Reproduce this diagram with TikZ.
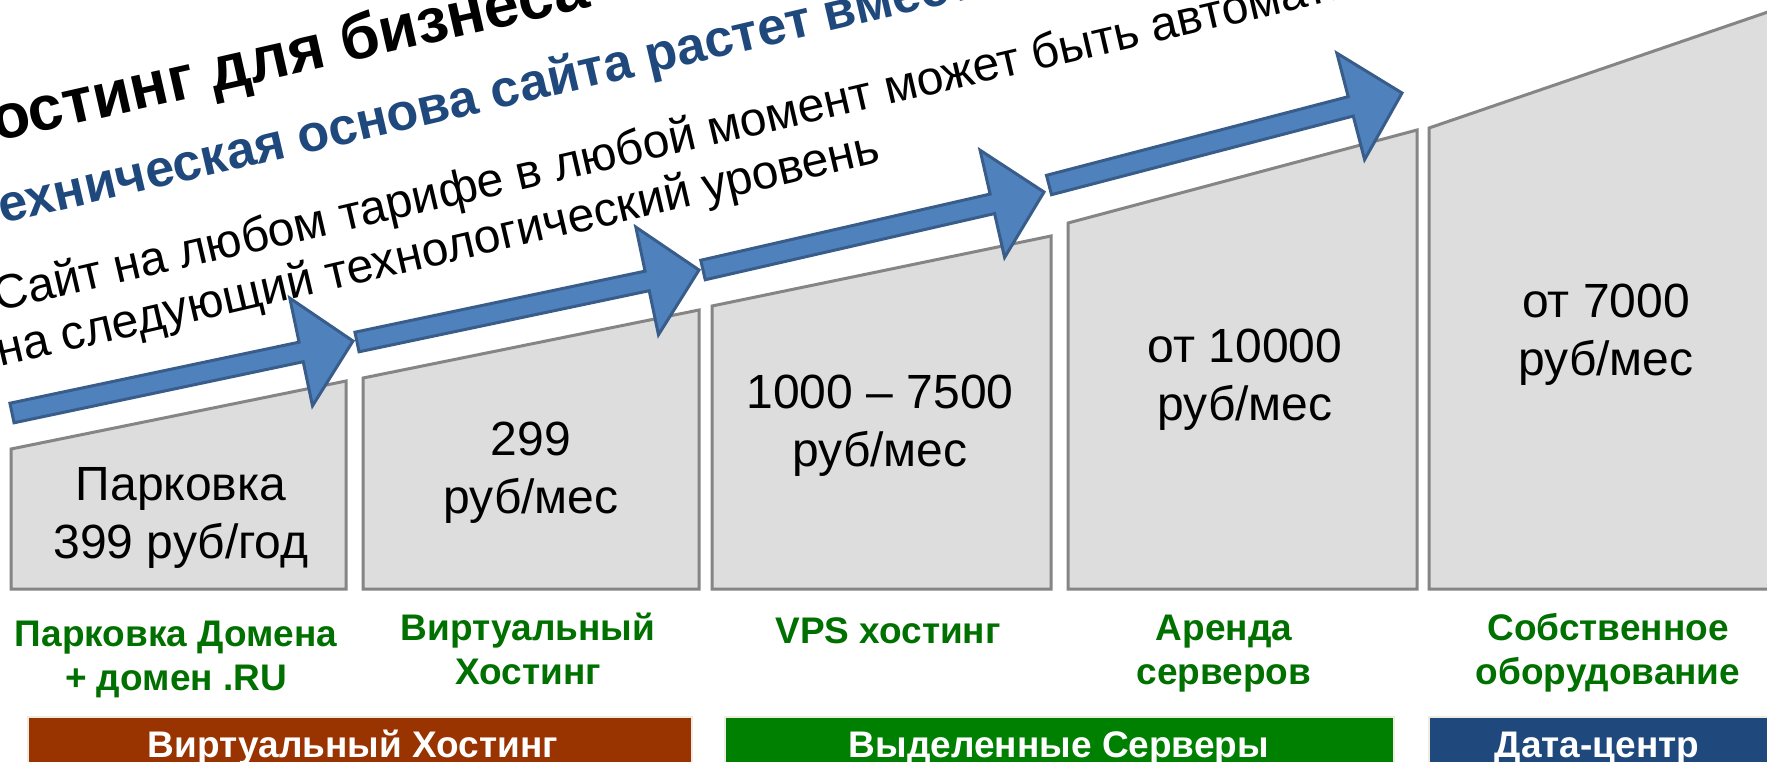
\documentclass[tikz,border=0pt]{standalone}
\usepackage{fontspec}
\setmainfont{Liberation Sans}
\usetikzlibrary{calc}
\definecolor{boxfill}{HTML}{DDDDDD}
\definecolor{boxline}{HTML}{858585}
\definecolor{arrfill}{HTML}{4F81BD}
\definecolor{arrline}{HTML}{385D8A}
\definecolor{lblgreen}{HTML}{007000}
\definecolor{titleblue}{HTML}{1F497D}
\definecolor{barbrown}{HTML}{993300}
\definecolor{bargreen}{HTML}{008000}
\definecolor{barnavy}{HTML}{1F497D}
\definecolor{baredge}{HTML}{EEECE1}
\newcommand{\twol}[2]{\begin{tabular}[t]{@{}c@{}}#1\\#2\end{tabular}}
\newcommand{\blockarr}[2]{%
  \coordinate (#1b) at ($(#2)!53pt!(#1)$);
  \draw[arrowshape] ($(#1)!10pt!90:(#2)$) -- ($(#1b)!10pt!-90:(#1)$) -- ($(#1b)!55pt!-90:(#1)$) -- (#2) -- ($(#1b)!55pt!90:(#1)$) -- ($(#1b)!10pt!90:(#1)$) -- ($(#1)!10pt!-90:(#2)$) -- cycle;}
\begin{document}
\begin{tikzpicture}[x=1pt,y=-1pt,
  tier/.style={fill=boxfill,draw=boxline,line width=3pt,line join=miter},
  arrowshape/.style={fill=arrfill,draw=arrline,line width=3pt,line join=miter},
  price/.style={anchor=base,inner sep=0pt,font=\fontsize{48}{58}\selectfont},
  lbl/.style={anchor=base,inner sep=0pt,text=lblgreen,font=\fontsize{37}{44}\selectfont\bfseries},
  bartxt/.style={anchor=base,inner sep=0pt,text=white,font=\fontsize{37}{44}\selectfont\bfseries},
  bar/.style={draw=baredge,line width=1.5pt},
  titletxt/.style={anchor=base west,inner sep=0pt,font=\fontsize{63}{70}\selectfont\bfseries},
  subtxt/.style={anchor=base west,inner sep=0pt,text=titleblue,font=\fontsize{52}{60}\selectfont\bfseries},
  bodytxt/.style={anchor=base west,inner sep=0pt,font=\fontsize{48}{56}\selectfont}]
\useasboundingbox (0,0) rectangle (1767,761);
\clip (0,0) rectangle (1767,761);
\fill[white] (0,0) rectangle (1767,761);
% heading texts
\node[titletxt,rotate=12.8] (title) at (-4,142) {\llap{Х}остинг для бизнеса};
\node[subtxt,rotate=13.1] (subtitle) at (2,224) {\llap{Т}ехническая основа сайта растет вместе};
\node[bodytxt,rotate=13.1] (body1) at (-3,312) {Сайт на любом тарифе в любой момент может быть автоматически};
\node[bodytxt,rotate=13.1] (body2) at (0,367) {на следующий технологический уровень};
% tiers
\draw[tier] (11,589) -- (11,449) -- (346,381) -- (346,589) -- cycle;
\draw[tier] (363,589) -- (363,378) -- (699,310) -- (699,589) -- cycle;
\draw[tier] (712,589) -- (712,306) -- (1051,236) -- (1051,589) -- cycle;
\draw[tier] (1068,589) -- (1068,223) -- (1417,130) -- (1417,589) -- cycle;
\draw[tier] (1429,589) -- (1429,128) -- (1800,1) -- (1800,589) -- cycle;
% arrows
\coordinate (t1) at (12,413);  \coordinate (p1) at (353,341);
\coordinate (t2) at (357,342); \coordinate (p2) at (699,270);
\coordinate (t3) at (703,270); \coordinate (p3) at (1044,192);
\coordinate (t4) at (1049,185); \coordinate (p4) at (1402,93);
\blockarr{t1}{p1}
\blockarr{t2}{p2}
\blockarr{t3}{p3}
\blockarr{t4}{p4}
% prices
\node[price] (pr1) at (181,500) {\twol{Парковка}{399 руб/год}};
\node[price] (pr2) at (531,455) {\twol{299}{руб/мес}};
\node[price] (pr3) at (880,408) {\twol{1000 – 7500}{руб/мес}};
\node[price] (pr4) at (1245,362) {\twol{от 10000}{руб/мес}};
\node[price] (pr5) at (1606,317) {\twol{от 7000}{руб/мес}};
% labels
\node[lbl] (l1) at (176,646) {\twol{Парковка Домена}{+ домен .RU}};
\node[lbl] (l2) at (528,640) {\twol{Виртуальный}{Хостинг}};
\node[lbl] (l3) at (888,643) {VPS хостинг};
\node[lbl] (l4) at (1224,640) {\twol{Аренда}{серверов}};
\node[lbl] (l5) at (1608,640) {\twol{Собственное}{оборудование}};
% category bars
\draw[bar,fill=barbrown] (28,717) rectangle (692,775);
\draw[bar,fill=bargreen] (725,717) rectangle (1394,775);
\draw[bar,fill=barnavy] (1429,717) rectangle (1800,775);
\node[bartxt] (c1) at (353,757) {Виртуальный Хостинг};
\node[bartxt] (c2) at (1059,757) {Выделенные Серверы};
\node[bartxt] (c3) at (1597,757) {Дата-центр};
\end{tikzpicture}
\end{document}
